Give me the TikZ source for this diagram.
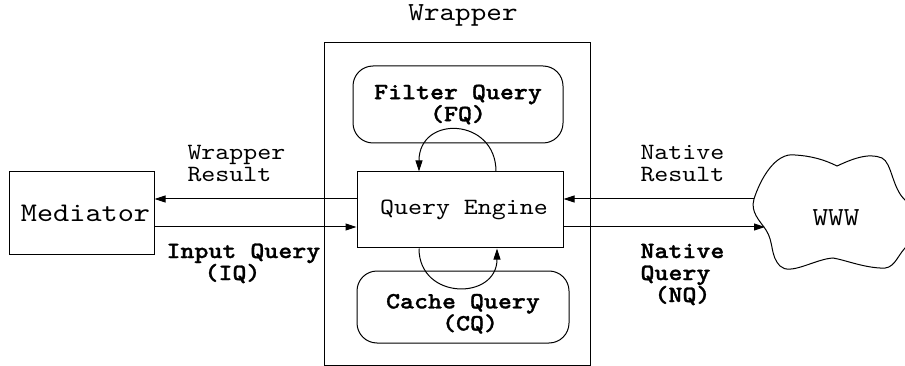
\documentclass[tikz,border=0pt]{standalone}
\usepackage{fontspec}
\setmonofont{lmmono10-regular.otf}[BoldFont=lmmonolt10-bold.otf,BoldFeatures={FakeBold=1.2},FakeStretch=1.143]
\usetikzlibrary{arrows.meta}
\begin{document}
\begin{tikzpicture}[x=1pt,y=-1pt,line width=1pt,
  txt/.style={font=\fontsize{23.3}{22}\selectfont\ttfamily},
  boldtxt/.style={font=\fontsize{23.3}{22}\selectfont\ttfamily\bfseries},
  box/.style={draw,inner sep=0pt,align=center},
  roundbox/.style={box,rounded corners=20pt},
  lbl/.style={inner sep=0pt,align=left,anchor=base west},
  arr/.style={-{Triangle[length=11pt,width=7pt]}}
]
\useasboundingbox (0,0) rectangle (905,366);

% wrapper frame and its title
\node[box,minimum width=266pt,minimum height=322pt] (wrap) at (457,204) {};
\node[font=\fontsize{26}{26}\selectfont\ttfamily,inner sep=0pt,anchor=base] (title) at (463,21) {Wrapper};

% inner components
\node[roundbox,boldtxt,minimum width=210pt,minimum height=77pt] (fq) at (458,104.5) {Filter Query\\(FQ)};
\node[box,txt,minimum width=206pt,minimum height=76pt] (qe) at (460,210) {\hspace*{8pt}Query Engine};
\node[roundbox,boldtxt,minimum width=212pt,minimum height=72pt,align=left] (cq) at (463,307) {\rule{0pt}{28pt}Cache Query\\\hspace*{56pt}(CQ)};

% mediator
\node[box,font=\fontsize{26.9}{27}\selectfont\ttfamily,minimum width=145pt,minimum height=83pt] (med) at (81.5,213.5) {\hspace*{8pt}Mediator};

% the web
\draw (754,199) .. controls (760,180) and (775,152) .. (795,155)
  .. controls (812,156) and (825,160) .. (837,166)
  .. controls (850,160) and (868,152) .. (882,158)
  .. controls (892,163) and (892,188) .. (905,200)
  .. controls (915,210) and (915,238) .. (905,248)
  .. controls (896,258) and (894,270) .. (880,268)
  .. controls (862,267) and (845,260) .. (833,258)
  .. controls (815,259) and (790,276) .. (780,266)
  .. controls (770,256) and (774,242) .. (766,230)
  .. controls (760,221) and (750,212) .. (754,199) -- cycle;
\coordinate (webin) at (754,199);
\coordinate (webout) at (765,227);
\node[font=\fontsize{26}{26}\selectfont\ttfamily,inner sep=0pt] (www) at (836,218) {WWW};

% levels of the two horizontal flows
\coordinate (upper) at (0,199);
\coordinate (lower) at (0,227);

\draw[arr] (qe.west |- upper) -- (med.east |- upper);
\draw[arr] (med.east |- lower) -- (qe.west |- lower);
\draw[arr] (webin) -- (qe.east |- upper);
\draw[arr] (qe.east |- lower) -- (webout);

% loops to the filter and cache components
\draw[arr] ([xshift=36pt]qe.north) .. controls +(0,-54) and +(0,-57) .. ([xshift=-41pt]qe.north);
\draw[arr] ([xshift=-41pt]qe.south) .. controls +(0,52) and +(0,52) .. ([xshift=37pt]qe.south);

% flow labels (anchored on the baseline of their last line)
\node[lbl,txt] (wres) at (187,182) {Wrapper\\Result};
\node[lbl,boldtxt] (iq) at (166,280) {Input Query\\\hspace*{38pt}(IQ)};
\node[lbl,txt] (nres) at (640,182) {Native\\Result};
\node[lbl,boldtxt] (nq) at (640,302) {Native\\Query\\\hspace*{14pt}(NQ)};
\end{tikzpicture}
\end{document}
